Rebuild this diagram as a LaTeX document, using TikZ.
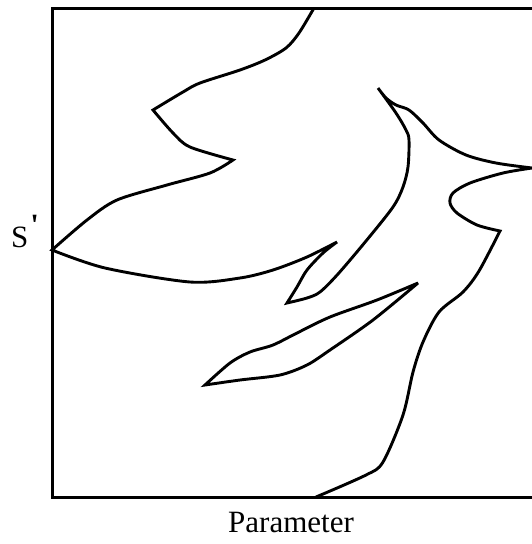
\documentclass[tikz,border=0pt]{standalone}
\usepackage{fontspec}
\setmainfont{Liberation Serif}
\begin{document}
\begin{tikzpicture}[x=1pt,y=-1pt,
  frame/.style={line width=3pt},
  curve/.style={line width=2.9pt,line join=miter,miter limit=6},
  lbl/.style={font=\fontsize{31}{31}\selectfont,inner sep=0pt}]
\useasboundingbox (0,0) rectangle (532,544);
% frame (right side outside the picture)
\coordinate (tr) at (532,8);
\coordinate (tl) at (52,8);
\coordinate (bl) at (52,497);
\coordinate (br) at (532,497);
\draw[frame] (tr) -- (tl) -- (bl) -- (br);
% main curve
\draw[curve]
  plot[smooth,tension=0.5] coordinates {(314,8) (299,33) (286,48) (265,60) (240,70) (200,83) (183,92) (153,110)}
  -- plot[smooth,tension=0.5] coordinates {(153,110) (173,133) (190,147) (233,160)}
  -- plot[smooth,tension=0.5] coordinates {(233,160) (210,173) (167,185) (117,200) (87,220) (52,250)}
  -- plot[smooth,tension=0.5] coordinates {(52,250) (105,268) (190,282) (240,278) (273,270) (307,257) (337,242)}
  -- plot[smooth,tension=0.5] coordinates {(337,242) (323,253) (307,270) (297,287) (287,303)}
  -- plot[smooth,tension=0.5] coordinates {(287,303) (307,298) (320,292) (338,274) (366,241) (393,207) (403,187) (408,167) (409,140) (406,130) (396,113) (378,88)}
  -- plot[smooth,tension=0.5] coordinates {(378,88) (386,98) (396,105) (409,110) (423,123) (439,140) (466,155) (496,163) (532,168)}
  -- plot[smooth,tension=0.5] coordinates {(532,168) (503,173) (470,183) (453,193) (450,203) (457,213) (477,225) (500,231)}
  -- plot[smooth,tension=0.5] coordinates {(500,231) (479,271) (463,292) (439,312) (423,342) (413,372) (403,415) (383,462) (366,475) (316,497)};
% island
\draw[curve]
  plot[smooth,tension=0.5] coordinates {(418,283) (377,300) (330,317) (297,333) (273,345) (250,352) (230,363) (205,385)}
  -- plot[smooth,tension=0.5] coordinates {(205,385) (240,380) (280,375) (307,365) (330,350) (373,320) (418,283)} -- cycle;
% labels
\node[lbl,anchor=base west] (s) at (11,247) {S\hspace{2pt}\raisebox{12pt}{\textbf{\textquotesingle}}};
\node[lbl,anchor=base] (p) at (291,532) {Parameter};
\end{tikzpicture}
\end{document}
